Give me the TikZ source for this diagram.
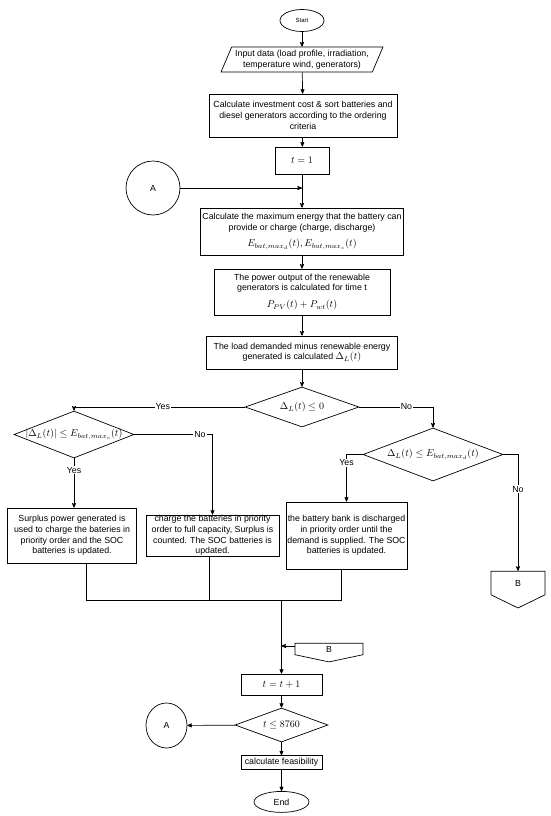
\documentclass[tikz,border=0pt]{standalone}
\usepackage{fontspec}
\setmainfont{Liberation Sans}
\usetikzlibrary{shapes, arrows, positioning, calc}
\newcommand{\rumus}[1]{{\fontsize{10}{12}\selectfont$#1$}}

\begin{document}
\begin{tikzpicture}
  [
  x=1pt, y=-1pt, line width=0.7pt,
  font=\fontsize{8.8}{10.7}\selectfont,
  block/.style = {rectangle, draw, align=center, inner sep=1pt},
  % bulat
  bulat/.style = {ellipse, draw, inner sep=0pt},
  % belah ketupat
  belah/.style = {diamond, draw, inner sep=0pt},
  % penghubung halaman
  halaman/.style = {signal, signal to=south, draw, inner sep=0pt},
  % line
  line/.style = {draw, -stealth'},
  garis/.style = {draw},
  jawab/.style = {fill=white, inner sep=1pt},
  ]
  \useasboundingbox (0,0) rectangle (550,816);

  % nodes
  \node [bulat, minimum width=44, minimum height=22, font=\fontsize{6}{7}\selectfont] (start) at (302,20.5) {Start};
  \node [trapezium, draw, trapezium left angle=64, trapezium right angle=116,
    trapezium stretches=true, minimum width=162, minimum height=25,
    align=center, inner sep=1pt] (input) at (302,59.5)
  {Input data (load profile, irradiation,\\ temperature wind, generators)};
  \node [block, minimum width=188, minimum height=43] (urut) at (303,115.5)
  {Calculate investment cost \& sort batteries and\\ diesel generators according to the ordering\\ criteria};
  \node [block, minimum width=54, minimum height=27] (mula) at (302,160.5) {\rumus{t=1}};
  \node [circle, draw, minimum size=54, inner sep=0pt] (a1) at (153,188) {A};
  \node [block, minimum width=203, minimum height=47] (emax) at (302,231.5)
  {Calculate the maximum energy that the battery can\\ provide or charge (charge, discharge)\\[6pt] \rumus{E_{bat,max_d}(t), E_{bat,max_c}(t)}};
  \node [block, minimum width=176, minimum height=46] (daya) at (302,292)
  {The power output of the renewable\\ generators is calculated for time t\\[6pt] \rumus{P_{PV}(t)+P_{wt}(t)}};
  \node [block, minimum width=191, minimum height=33] (delta) at (302,352.5)
  {The load demanded minus renewable energy\\ generated is calculated \rumus{\Delta_L(t)}};
  \node [belah, minimum width=114, minimum height=40, aspect=2.85] (d1) at (302,407) {\rumus{\Delta_L(t)\leq 0}};
  \node [belah, minimum width=120, minimum height=47, aspect=2.55, inner sep=-1pt] (d2) at (74,434.5) {\rumus{|\Delta_L(t)| \leq E_{bat,max_c}(t)}};
  \node [belah, minimum width=140, minimum height=53, aspect=2.64] (d3) at (433,454.5) {\rumus{\Delta_L(t) \leq E_{bat,max_d}(t)}};
  \node [block, minimum width=129, minimum height=55] (cas1) at (72,535.5)
  {Surplus power generated is\\ used to charge the bateries in\\ priority order and the SOC\\ batteries is updated.};
  \node [block, minimum width=133, minimum height=41, inner ysep=0pt] (cas2) at (212.5,535.5)
  {charge the batteries in priority\\ order to full capacity, Surplus is\\ counted. The SOC batteries is\\ updated.};
  \node [block, minimum width=121, minimum height=67] (buang) at (346.5,535.5)
  {the battery bank is discharged\\ in priority order until the\\ demand is supplied. The SOC\\ batteries is updated.};
  \node [halaman, minimum width=54, minimum height=25, signal pointer angle=128] (b1) at (518,583) {B};
  \coordinate (gabung) at (281.5,600);
  \node [halaman, minimum width=68, minimum height=12, signal pointer angle=156] (b2) at (329,649) {B};
  \node [block, minimum width=81, minimum height=21] (naik) at (281.5,684.5) {\rumus{t=t+1}};
  \node [belah, minimum width=93, minimum height=34, aspect=2.7] (d4) at (281.5,725) {\rumus{t\leq 8760}};
  \node [bulat, minimum width=41, minimum height=45] (a2) at (166.5,725.5) {A};
  \node [block, minimum width=81, minimum height=14, inner sep=0pt, below = 13pt of d4] (layak) {calculate feasibility};
  \node [bulat, minimum width=55, minimum height=21, below = 21pt of layak] (selesai) {End};

  % path
  \path [line] (start) -- (input);
  \path [line] (input) -- (urut);
  \path [line] (urut) -- (mula);
  \path [line] (mula) -- (emax);
  \path [line] (a1) -- (a1 -| mula);
  \path [line] (emax) -- (daya);
  \path [line] (daya) -- (delta);
  \path [line] (delta) -- (d1);
  \path [line] (d1.west) -| node [jawab, pos=.24] {Yes} (d2.north);
  \path [line] (d1.east) -| node [jawab, pos=.32] {No} (d3.north);
  \path [line] (d2.south) -- node [jawab, pos=.24] {Yes} (d2.south |- cas1.north);
  \path [line] (d2.east) -| node [jawab, pos=.42] {No} (cas2.north);
  \path [line] (d3.west) -| node [jawab, pos=.59] {Yes} (buang.north);
  \path [line] (d3.east) -| node [jawab, pos=.65] {No} (b1.north);
  % gabung ke t+1
  \path [garis] ([xshift=14pt]cas1.south) |- (gabung);
  \path [garis] ([xshift=-3pt]cas2.south) |- (gabung);
  \path [garis] ([xshift=-5pt]buang.south) |- (gabung);
  \path [line] (gabung) -- (naik);
  \path [line] ([yshift=3pt]b2.west) -- ([yshift=3pt]b2.west -| gabung);
  \path [line] (naik) -- (d4);
  \path [line] (d4) -- (a2);
  \path [line] (d4) -- (layak);
  \path [line] (layak) -- (selesai);

\end{tikzpicture}
\end{document}
